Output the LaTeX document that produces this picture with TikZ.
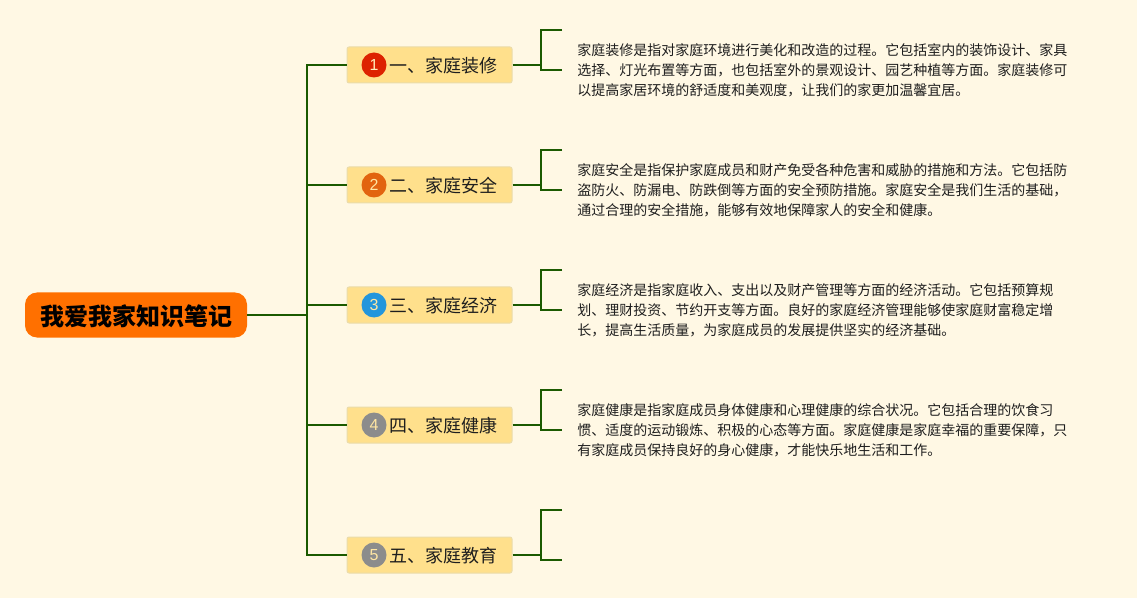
\documentclass[tikz,border=0pt]{standalone}
\usepackage{fontspec}
\setmainfont{Liberation Sans}
\newfontfamily\cjk{Noto Sans CJK SC}
\usetikzlibrary{positioning}
\definecolor{paper}{HTML}{FFF8E4}
\definecolor{branchgreen}{HTML}{1B5A00}
\definecolor{rootorange}{HTML}{FF7000}
\definecolor{topicfill}{HTML}{FFE08C}
\definecolor{topicline}{HTML}{EBDCAA}
\definecolor{inkdark}{HTML}{1E1E1E}
\definecolor{badgered}{HTML}{DD2200}
\definecolor{badgeorange}{HTML}{E2640F}
\definecolor{badgeblue}{HTML}{2396DC}
\definecolor{badgegrey}{HTML}{8C8C8C}
\tikzset{
  rootbox/.style={fill=rootorange,rounded corners=9pt,minimum width=166.5pt,minimum height=33.75pt,inner sep=0pt,text=black,font=\cjk\bfseries\fontsize{18}{18}\selectfont},
  topicbox/.style={fill=topicfill,draw=topicline,line width=0.75pt,rounded corners=1.5pt,minimum width=123.75pt,minimum height=27pt,inner sep=0pt},
  topiclabel/.style={anchor=west,inner sep=0pt,text=inkdark,font=\cjk\fontsize{13.5}{13.5}\selectfont},
  badge/.style={circle,minimum size=18.75pt,inner sep=0pt,text=#1,font=\fontsize{12}{12}\selectfont},
  note/.style={anchor=west,align=left,inner sep=0pt,text=inkdark,font=\cjk\fontsize{10.5}{15}\selectfont},
  branch/.style={draw=branchgreen,line width=1.5pt}
}
\begin{document}
\begin{tikzpicture}[line cap=butt,line join=miter,x=0.75pt,y=-0.75pt]
\fill [paper] (0,0) rectangle (1137,598);
\useasboundingbox (0,0) rectangle (1137,598);
% centre
\node [rootbox] (root) at (136,315) {};
\node [inner sep=0pt,text=black,font=\cjk\bfseries\fontsize{18}{18}\selectfont] (rootlabel) at (136,316) {我爱我家知识笔记};
% topics
\node [topicbox] (topicA) at (429.5,65) {};
\node [topicbox] (topicB) at (429.5,185) {};
\node [topicbox] (topicC) at (429.5,305) {};
\node [topicbox] (topicD) at (429.5,425) {};
\node [topicbox] (topicE) at (429.5,555) {};
\node [badge=topicfill!60!white,fill=badgered] (badgeA) at (374,65) {1};
\node [badge=topicfill!80!white,fill=badgeorange] (badgeB) at (374,185) {2};
\node [badge=topicfill!80!white,fill=badgeblue] (badgeC) at (374,305) {3};
\node [badge=topicfill!80!white,fill=badgegrey] (badgeD) at (374,425) {4};
\node [badge=topicfill!80!white,fill=badgegrey] (badgeE) at (374,555) {5};
\node [topiclabel] (labelA) at (389,66) {一、家庭装修};
\node [topiclabel] (labelB) at (389,186) {二、家庭安全};
\node [topiclabel] (labelC) at (389,306) {三、家庭经济};
\node [topiclabel] (labelD) at (389,426) {四、家庭健康};
\node [topiclabel] (labelE) at (389,556) {五、家庭教育};
% notes
\node [note] (noteA) at (577,70.5) {家庭装修是指对家庭环境进行美化和改造的过程。它包括室内的装饰设计、家具\\选择、灯光布置等方面，也包括室外的景观设计、园艺种植等方面。家庭装修可\\以提高家居环境的舒适度和美观度，让我们的家更加温馨宜居。};
\node [note] (noteB) at (577,190.5) {家庭安全是指保护家庭成员和财产免受各种危害和威胁的措施和方法。它包括防\\盗防火、防漏电、防跌倒等方面的安全预防措施。家庭安全是我们生活的基础，\\通过合理的安全措施，能够有效地保障家人的安全和健康。};
\node [note] (noteC) at (577,310.5) {家庭经济是指家庭收入、支出以及财产管理等方面的经济活动。它包括预算规\\划、理财投资、节约开支等方面。良好的家庭经济管理能够使家庭财富稳定增\\长，提高生活质量，为家庭成员的发展提供坚实的经济基础。};
\node [note] (noteD) at (577,430.5) {家庭健康是指家庭成员身体健康和心理健康的综合状况。它包括合理的饮食习\\惯、适度的运动锻炼、积极的心态等方面。家庭健康是家庭幸福的重要保障，只\\有家庭成员保持良好的身心健康，才能快乐地生活和工作。};
% forks and free ends of the brackets
\coordinate (forkA) at (541,65);
\coordinate (forkB) at (541,185);
\coordinate (forkC) at (541,305);
\coordinate (forkD) at (541,425);
\coordinate (forkE) at (541,555);
\coordinate (endA1) at (562,30);
\coordinate (endA2) at (562,70);
\coordinate (endB1) at (562,150);
\coordinate (endB2) at (562,190);
\coordinate (endC1) at (562,270);
\coordinate (endC2) at (562,310);
\coordinate (endD1) at (562,390);
\coordinate (endD2) at (562,430);
\coordinate (endE1) at (562,510);
\coordinate (endE2) at (562,560);
\coordinate (spine) at (307,315);
% spine
\draw [branch] (root.east) -- (spine) |- (topicA.west);
\draw [branch] (root.east) -- (spine) |- (topicB.west);
\draw [branch] (root.east) -- (spine) |- (topicC.west);
\draw [branch] (root.east) -- (spine) |- (topicD.west);
\draw [branch] (root.east) -- (spine) |- (topicE.west);
% brackets
\draw [branch] (topicA.east) -- (forkA);
\draw [branch] (endA1) -| (forkA) |- (endA2);
\draw [branch] (topicB.east) -- (forkB);
\draw [branch] (endB1) -| (forkB) |- (endB2);
\draw [branch] (topicC.east) -- (forkC);
\draw [branch] (endC1) -| (forkC) |- (endC2);
\draw [branch] (topicD.east) -- (forkD);
\draw [branch] (endD1) -| (forkD) |- (endD2);
\draw [branch] (topicE.east) -- (forkE);
\draw [branch] (endE1) -| (forkE) |- (endE2);
\end{tikzpicture}
\end{document}
